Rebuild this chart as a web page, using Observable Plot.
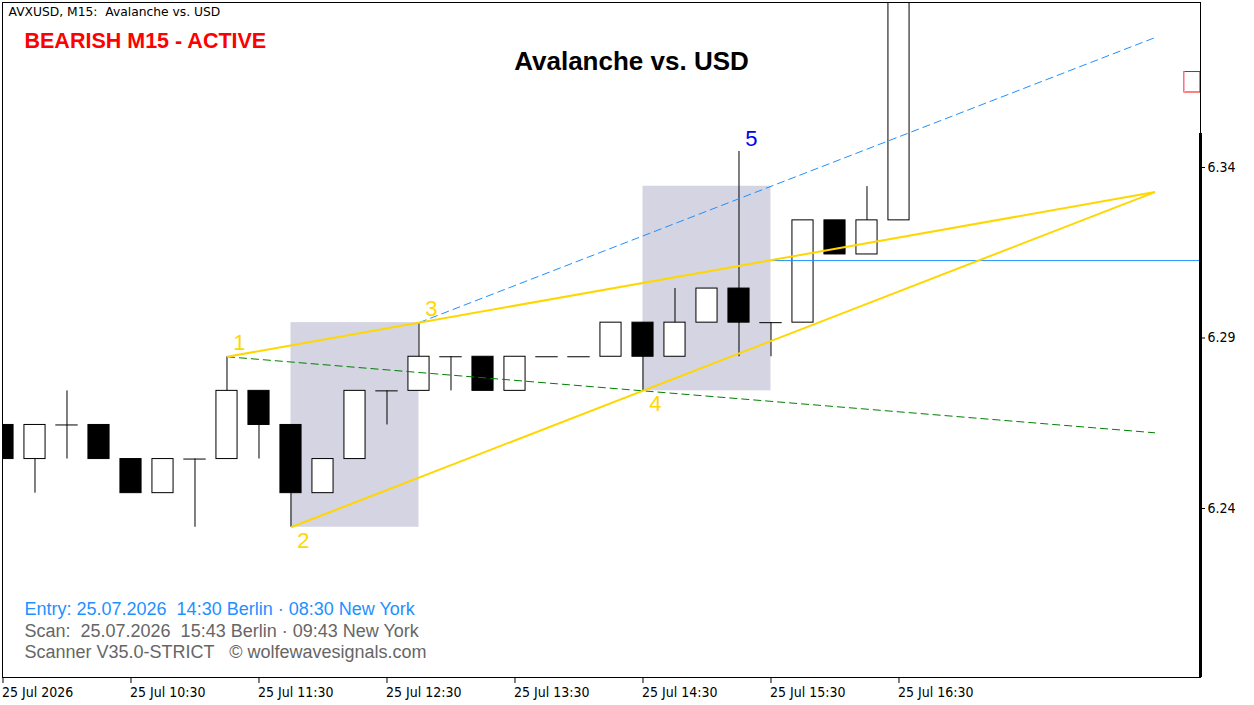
<!DOCTYPE html>
<html><head><meta charset="utf-8">
<script src="https://cdn.jsdelivr.net/npm/d3@7"></script>
<script src="https://cdn.jsdelivr.net/npm/@observablehq/plot@0.6"></script>
<style>
html,body{margin:0;padding:0;background:#fff;}
svg text{white-space:pre;}
</style></head><body><div id="chart"></div>
<script>
// ---- data ----
const openP  = [6.2645,6.2545,6.2645,6.2645,6.2545,6.2445,6.2545,6.2545,6.2745,6.2645,6.2445,6.2545,6.2745,6.2745,6.2845,6.2845,6.2745,6.2845,6.2845,6.2845,6.2945,6.2845,6.2945,6.3045,6.2945,6.2945,6.3245,6.3145,6.3245];
const highP  = [6.2645,6.2645,6.2745,6.2645,6.2545,6.2545,6.2545,6.2845,6.2745,6.2645,6.2545,6.2745,6.2745,6.2945,6.2845,6.2845,6.2845,6.2845,6.2845,6.2945,6.2945,6.3045,6.3045,6.3447,6.2945,6.3245,6.3245,6.3344,6.4045];
const lowP   = [6.2545,6.2445,6.2545,6.2545,6.2445,6.2445,6.2345,6.2545,6.2545,6.2345,6.2445,6.2545,6.2645,6.2745,6.2745,6.2745,6.2745,6.2845,6.2845,6.2845,6.2745,6.2845,6.2945,6.2845,6.2845,6.2945,6.3145,6.3145,6.3245];
const closeP = [6.2545,6.2645,6.2645,6.2545,6.2445,6.2545,6.2545,6.2745,6.2645,6.2445,6.2545,6.2745,6.2745,6.2845,6.2845,6.2745,6.2845,6.2845,6.2845,6.2945,6.2845,6.2945,6.3045,6.2945,6.2945,6.3245,6.3145,6.3245,6.4045];

const xTickIdx = [0,4,8,12,16,20,24,28];
const xTickLabels = ["25 Jul 2026","25 Jul 10:30","25 Jul 11:30","25 Jul 12:30","25 Jul 13:30","25 Jul 14:30","25 Jul 15:30","25 Jul 16:30"];
const yTicks = [6.24, 6.29, 6.34];

const zoneStart = [9, 20];
const zoneEnd   = [13, 24];
const zoneTop   = [6.2945, 6.3345];
const zoneBottom= [6.2345, 6.2745];

const waveLabels = ["1","2","3","4","5"];
const waveIdx    = [7, 9, 13, 20, 23];
const wavePrice  = [6.2845, 6.2345, 6.2945, 6.2745, 6.3447];

// trend lines: start index/price -> end index/price
const yellowFrom = [[7, 6.2845], [9, 6.2345]];
const yellowTo   = [[36, 6.3328], [36, 6.3328]];
const blueFrom = [13, 6.2945], blueTo = [36, 6.3781];
const greenFrom = [7, 6.2845], greenTo = [36, 6.2622];
const levelPrice = 6.3127, levelStart = 24;
const priceBox = [36.92, 37.42, 6.362, 6.368];
const axisBarTop = 6.35;

const xDomain = [-0.0156, 37.422];
const yDomain = [6.19044, 6.38839];

const header = "AVXUSD, M15:  Avalanche vs. USD";
const status = "BEARISH M15 - ACTIVE";
const title = "Avalanche vs. USD";
const entryLine = "Entry: 25.07.2026  14:30 Berlin · 08:30 New York";
const scanLine = "Scan:  25.07.2026  15:43 Berlin · 09:43 New York";
const creditLine = "Scanner V35.0-STRICT   © wolfewavesignals.com";

// ---- build tables ----
const candles = openP.map((o, i) => ({i, open: o, high: highP[i], low: lowP[i], close: closeP[i]}));
const bodies = candles.filter(d => d.open !== d.close);
const dojis = candles.filter(d => d.open === d.close);
const zones = zoneStart.map((s, k) => ({x1: s, x2: zoneEnd[k], y1: zoneBottom[k], y2: zoneTop[k]}));
const waves = waveLabels.map((t, k) => ({t, i: waveIdx[k], p: wavePrice[k]}));
const yellowLinks = yellowFrom.map((f, k) => ({x1: f[0], y1: f[1], x2: yellowTo[k][0], y2: yellowTo[k][1]}));
const hw = 0.33;
const GOLD = "#FFD700";
const sans = "Liberation Sans, Arial, sans-serif";
const axisFont = "DejaVu Sans Condensed, DejaVu Sans, sans-serif";

const chart = Plot.plot({
  width: 1254, height: 705,
  marginLeft: 2, marginRight: 54, marginTop: 2, marginBottom: 28,
  x: {domain: xDomain},
  y: {domain: yDomain},
  style: {background: "#fff", color: "black"},
  marks: [
    Plot.rect(zones, {x1: "x1", x2: "x2", y1: "y1", y2: "y2", fill: "#d4d4e2"}),
    Plot.ruleX(candles, {x: "i", y1: "low", y2: "high", stroke: "black", strokeWidth: 1, clip: true}),
    Plot.rect(bodies.filter(d => d.close > d.open), {x1: d => d.i - hw, x2: d => d.i + hw, y1: "open", y2: "close", fill: "white", stroke: "black", strokeWidth: 1, clip: true}),
    Plot.rect(bodies.filter(d => d.close < d.open), {x1: d => d.i - hw, x2: d => d.i + hw, y1: "open", y2: "close", fill: "black", stroke: "black", strokeWidth: 1, clip: true}),
    Plot.ruleY(dojis, {y: "open", x1: d => d.i - hw - 0.02, x2: d => d.i + hw + 0.02, stroke: "black", strokeWidth: 1}),
    Plot.link([{x1: greenFrom[0], y1: greenFrom[1], x2: greenTo[0], y2: greenTo[1]}], {x1: "x1", y1: "y1", x2: "x2", y2: "y2", stroke: "#008000", strokeWidth: 1, strokeDasharray: "8,4"}),
    Plot.link([{x1: blueFrom[0], y1: blueFrom[1], x2: blueTo[0], y2: blueTo[1]}], {x1: "x1", y1: "y1", x2: "x2", y2: "y2", stroke: "#1E90FF", strokeWidth: 1, strokeDasharray: "8,4"}),
    Plot.ruleY([levelPrice], {x1: levelStart, x2: xDomain[1], stroke: "#1E90FF", strokeWidth: 1}),
    Plot.link(yellowLinks, {x1: "x1", y1: "y1", x2: "x2", y2: "y2", stroke: GOLD, strokeWidth: 2}),
    Plot.text(waves.filter(d => d.t === "1" || d.t === "3"), {x: "i", y: "p", text: "t", fill: GOLD, fontSize: 22, fontFamily: sans, dx: 12.5, dy: -14}),
    Plot.text(waves.filter(d => d.t === "2" || d.t === "4"), {x: "i", y: "p", text: "t", fill: GOLD, fontSize: 22, fontFamily: sans, dx: 12.5, dy: 13.5}),
    Plot.text(waves.filter(d => d.t === "5"), {x: "i", y: "p", text: "t", fill: "#0000EE", fontSize: 22, fontFamily: sans, dx: 12.5, dy: -13}),
    Plot.rect([priceBox], {x1: d => d[0], x2: d => d[1], y1: d => d[2], y2: d => d[3], fill: "white", stroke: "red", strokeWidth: 1}),
    Plot.ruleX([priceBox], {x: d => d[0], y1: d => d[2], y2: d => d[3], stroke: "#ffb6c1", strokeWidth: 1}),
    Plot.frame({stroke: "black", strokeWidth: 1}),
    Plot.ruleX([xDomain[1]], {y1: axisBarTop, y2: yDomain[0], stroke: "black", strokeWidth: 3}),
    Plot.axisX(xTickIdx, {anchor: "bottom", tickSize: 6, tickFormat: () => ""}),
    Plot.axisY(yTicks, {anchor: "right", tickSize: 4, tickFormat: () => ""}),
    Plot.text(xTickIdx, {x: d => d, frameAnchor: "bottom", text: d => xTickLabels[xTickIdx.indexOf(d)], textAnchor: "start", lineAnchor: "middle", dx: -1, dy: 15, fontSize: 14, fontFamily: axisFont, fill: "black"}),
    Plot.text(yTicks, {y: d => d, frameAnchor: "right", text: d => d.toFixed(2), textAnchor: "start", lineAnchor: "middle", dx: 7, fontSize: 14, fontFamily: axisFont, fill: "black"}),
    Plot.text([header], {text: d => d, frameAnchor: "top-left", textAnchor: "start", lineAnchor: "middle", dx: 6, dy: 10, fontSize: 12.3, fontFamily: "DejaVu Sans", fill: "black"}),
    Plot.text([status], {text: d => d, frameAnchor: "top-left", textAnchor: "start", lineAnchor: "middle", dx: 22, dy: 39, fontSize: 21.5, fontWeight: "bold", fontFamily: sans, fill: "#FF0000"}),
    Plot.text([title], {text: d => d, frameAnchor: "top", textAnchor: "middle", lineAnchor: "middle", dx: 30, dy: 59, fontSize: 26, fontWeight: "bold", fontFamily: sans, fill: "black"}),
    Plot.text([entryLine], {text: d => d, frameAnchor: "bottom-left", textAnchor: "start", lineAnchor: "middle", dx: 22, dy: -68, fontSize: 18, fontFamily: sans, fill: "#1E90FF"}),
    Plot.text([scanLine], {text: d => d, frameAnchor: "bottom-left", textAnchor: "start", lineAnchor: "middle", dx: 22, dy: -46, fontSize: 18, fontFamily: sans, fill: "#666666"}),
    Plot.text([creditLine], {text: d => d, frameAnchor: "bottom-left", textAnchor: "start", lineAnchor: "middle", dx: 22, dy: -25, fontSize: 18, fontFamily: sans, fill: "#666666"})
  ]
});
document.getElementById("chart").appendChild(chart);
</script></body></html>
